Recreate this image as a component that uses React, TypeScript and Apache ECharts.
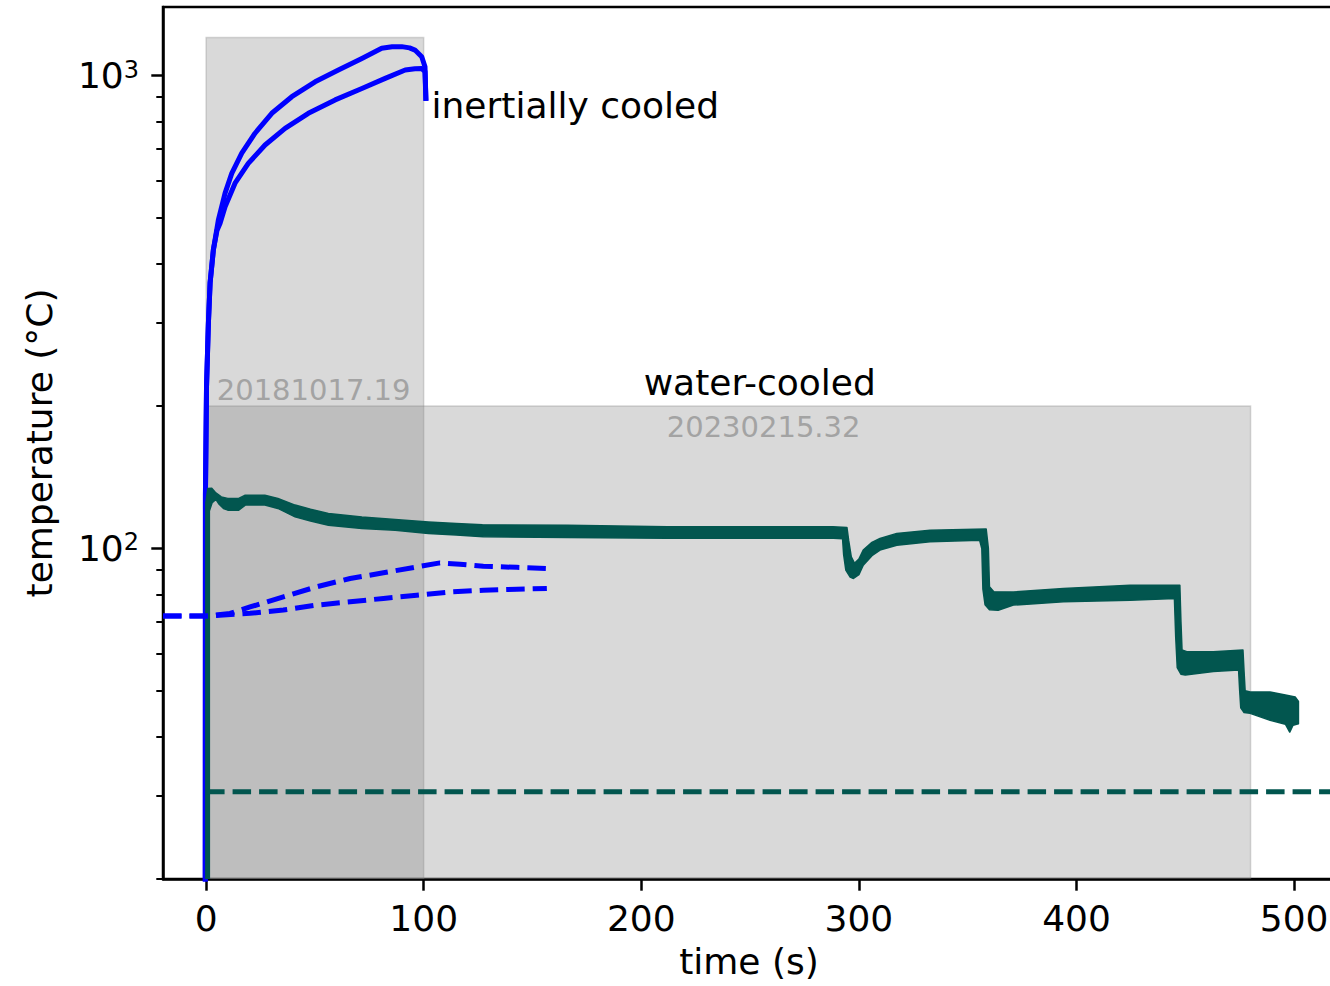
import React, { useEffect, useRef } from "react";
import * as echarts from "echarts";

// ---- axes ----
const X_MIN = -19.8;
const X_MAX = 518.8;
const Y_MIN = 20;
const Y_MAX = 1396;
const xTicks = [0, 100, 200, 300, 400, 500];
const yMajorTicks = [100, 1000];
const yMinorTicks = [20, 30, 40, 50, 60, 70, 80, 90, 200, 300, 400, 500, 600, 700, 800, 900];

// ---- shaded time windows [t0, T0, t1, T1] ----
const spans: [number, number, number, number][] = [
  [0, 20, 100, 1204], // inertially cooled discharge
  [0, 20, 480, 200], // water-cooled discharge
];

// ---- inertially cooled shot: surface temperatures (t [s], T [°C]) ----
const inertialHot: [number, number][] = [
  [-0.4, 10], [-0.3, 130], [0.2, 220], [1.06, 299], [1.84, 364], [3.35, 428], [5.65, 495],
  [8.73, 564], [11.8, 621], [16.4, 685], [22.5, 755], [30.2, 832], [39.4, 902], [50.1, 970],
  [60.8, 1027], [71.6, 1087], [80.7, 1142], [85.5, 1150], [89.9, 1151], [93.5, 1144],
  [96.0, 1132], [99.1, 1096], [100.6, 1044], [101.0, 895],
];
const inertialWarm: [number, number][] = [
  [-0.4, 10], [-0.3, 130], [0.2, 220], [1.06, 299], [1.84, 364], [3.35, 428], [5.0, 470],
  [6.43, 487], [8.73, 528], [13.3, 592], [19.4, 652], [27.1, 713], [36.3, 773], [47.0, 832],
  [59.3, 888], [71.6, 939], [82.3, 986], [91.5, 1027], [96, 1034], [99.1, 1035],
  [100.6, 1019], [101.0, 895],
];
// inertially cooled shot: coolant / structure temperatures
const inertialDashA: [number, number][] = [
  [-19.8, 72], [1, 72], [11, 72.9], [20.2, 75.2], [35.5, 79], [50.9, 83], [66.2, 86.4],
  [81.5, 88.8], [96.8, 91.4], [107.5, 93.2], [116.7, 92.6], [127.4, 91.7], [142.8, 91.2],
  [156.6, 90.7],
];
const inertialDashB: [number, number][] = [
  [-19.8, 72], [1, 72], [20.2, 72.9], [35.5, 74.1], [50.9, 75.9], [66.2, 77.1], [81.5, 78.4],
  [96.8, 79.6], [112.1, 80.9], [127.4, 81.6], [142.8, 82.0], [156.6, 82.3],
];

// ---- water-cooled shot: measured band (upper and lower edge of the noisy trace) ----
const waterTop: [number, number][] = [
  [-0.1, 15], [-0.1, 125], [0.8, 133.9], [2.6, 134], [4.5, 131], [7, 128.5], [10, 127.6],
  [15, 127.6], [18, 129.6], [27, 129.6], [33, 127.5], [40.9, 123.5], [48, 121], [56.2, 118.6],
  [71.6, 116.6], [86.9, 115.2], [102.2, 113.8], [115, 112.9], [127, 112.2], [166, 112.0],
  [212, 111.1], [288, 111.1], [294.5, 110.8], [295.3, 104], [296.5, 96], [298, 93], [300, 95],
  [302, 99.2], [306, 103], [309.7, 105], [317.4, 107.6], [332.7, 109.3], [358.5, 109.9],
  [359.5, 100], [360, 83], [362, 81], [371, 80.9], [394, 82.3], [424.6, 83.6], [447.5, 83.6],
  [448, 70], [448.5, 61], [450.7, 60.5], [462.9, 60.5], [476.5, 61.0], [477, 55], [477.5, 50],
  [479.8, 49.7], [489, 49.7], [496, 49], [500.5, 48.5], [502, 47.5],
];
const waterBottom: [number, number][] = [
  [1.5, 15], [1.5, 120], [2.8, 125], [4.5, 127], [6, 124], [8, 121.5], [10, 120.5],
  [15, 120.5], [18, 123.5], [27, 123.5], [33, 121.5], [40.9, 116.6], [48, 114.3],
  [56.2, 112.0], [71.6, 110.2], [86.9, 109.3], [102.2, 107.6], [115, 106.7], [127.4, 105.8],
  [165.8, 105.5], [211.7, 105.1], [288.3, 105.1], [292.5, 104.8], [293, 97], [294, 90],
  [296, 87], [297.5, 86.4], [300, 88], [302, 92.2], [306, 96.5], [309.7, 99.2], [317.4, 101.6],
  [332.7, 103.3], [355.5, 104.1], [356.5, 100], [357, 82], [358, 76], [360, 74.2], [364, 74.0],
  [371, 75.9], [394, 77.1], [424.6, 77.7], [445, 78.4], [445.6, 65], [446.3, 56], [448, 54.2],
  [450, 54.0], [462.9, 54.9], [474.5, 55.3], [475, 50], [475.5, 46], [477, 45], [479.8, 44.8],
  [489, 43.3], [496, 42.5], [498, 40.9], [499.5, 42.3], [502, 42.6],
];
// water-cooled shot: coolant temperature
const waterCoolant: [number, number][] = [
  [0, 30.6], [540, 30.6],
];

// ---- text annotations (t, T at the text's vertical centre) ----
const annotations = [
  { text: "inertially cooled", t: 103.6, T: 863 },
  { text: "water-cooled", t: 201.1, T: 224.1 },
];
const shotIds = [
  { text: "20181017.19", t: 4.9, T: 216.1 },
  { text: "20230215.32", t: 211.7, T: 180.3 },
];

const FONT = "DejaVu Sans";
const BLUE = "#0000ff";
const TEAL = "#02564f";
const SPAN_FILL = "rgba(128,128,128,0.3)";
const DASH = [18.5, 8];

function buildOption(): echarts.EChartsOption {
  const clipRect = (params: any) => ({
    type: "rect",
    shape: {
      x: params.coordSys.x,
      y: params.coordSys.y,
      width: params.coordSys.width,
      height: params.coordSys.height,
    },
  });

  const textSeries = (items: { text: string; t: number; T: number }[], size: number, color: string) => ({
    type: "custom",
    silent: true,
    clip: false,
    z: 10,
    data: items.map((n) => [n.t, n.T]),
    renderItem: (params: any, api: any) => {
      const p = api.coord([api.value(0), api.value(1)]);
      return {
        type: "text",
        x: p[0],
        y: p[1],
        style: {
          text: items[params.dataIndex].text,
          fill: color,
          fontSize: size,
          fontFamily: FONT,
          align: "left",
          verticalAlign: "middle",
        },
      };
    },
  });

  const lineSeries = (data: [number, number][], color: string, dashed: boolean, z: number) => ({
    type: "line",
    data,
    showSymbol: false,
    symbol: "none",
    silent: true,
    clip: true,
    z,
    lineStyle: {
      color,
      width: 5,
      type: dashed ? DASH : "solid",
      cap: dashed ? "butt" : "square",
      join: "round",
    },
  });

  return {
    animation: false,
    backgroundColor: "#ffffff",
    grid: {
      left: 163,
      top: 7,
      width: 1172,
      height: 872,
      containLabel: false,
      outerBoundsMode: "none",
      show: true,
      borderColor: "#000",
      borderWidth: 2.5,
      backgroundColor: "transparent",
    } as any,
    xAxis: {
      type: "value",
      min: X_MIN,
      max: X_MAX,
      position: "bottom",
      axisLine: { show: true, onZero: false, lineStyle: { color: "#000", width: 2.5 } },
      axisTick: { show: true, customValues: xTicks, length: 11.7, lineStyle: { color: "#000", width: 2.5 } },
      axisLabel: {
        customValues: xTicks,
        color: "#000",
        fontSize: 36,
        fontFamily: FONT,
        margin: 21,
        showMinLabel: true,
        showMaxLabel: true,
      },
      splitLine: { show: false },
      name: "time (s)",
      nameLocation: "middle",
      nameGap: 64,
      nameMoveOverlap: false,
      nameTextStyle: { color: "#000", fontSize: 36, fontFamily: FONT },
    } as any,
    yAxis: [
      {
        type: "log",
        logBase: 10,
        min: Y_MIN,
        max: Y_MAX,
        position: "left",
        axisLine: { show: true, onZero: false, lineStyle: { color: "#000", width: 2.5 } },
        axisTick: { show: true, customValues: yMajorTicks, length: 11.7, lineStyle: { color: "#000", width: 2.5 } },
        axisLabel: {
          customValues: yMajorTicks,
          margin: 24,
          formatter: (v: number) => {
            const e = v > 9 ? Math.round(Math.log10(v)) : Math.round(v);
            return `{b|10}{s|${e}}`;
          },
          rich: {
            b: { fontSize: 36, lineHeight: 36, fontFamily: FONT, color: "#000", verticalAlign: "middle" },
            s: { fontSize: 24, lineHeight: 22, fontFamily: FONT, color: "#000", verticalAlign: "top" },
          },
        },
        splitLine: { show: false },
        minorTick: { show: false },
        name: "temperature (°C)",
        nameLocation: "middle",
        nameRotate: 90,
        nameGap: 106,
        nameMoveOverlap: false,
        nameTextStyle: { color: "#000", fontSize: 36, fontFamily: FONT },
      } as any,
      {
        // minor ticks of the log scale
        type: "log",
        logBase: 10,
        min: Y_MIN,
        max: Y_MAX,
        position: "left",
        offset: 0,
        axisLine: { show: false, onZero: false },
        axisTick: { show: true, customValues: yMinorTicks, length: 6.7, lineStyle: { color: "#000", width: 2 } },
        axisLabel: { show: false },
        splitLine: { show: false },
        minorTick: { show: false },
      } as any,
    ],
    series: [
      {
        type: "custom",
        silent: true,
        z: 1,
        data: spans,
        renderItem: (params: any, api: any) => {
          const a = api.coord([api.value(0), api.value(3)]);
          const b = api.coord([api.value(2), api.value(1)]);
          return {
            type: "rect",
            shape: { x: a[0], y: a[1], width: b[0] - a[0], height: b[1] - a[1] },
            style: { fill: SPAN_FILL, stroke: SPAN_FILL, lineWidth: 1.5 },
            clipPath: clipRect(params),
          };
        },
      },
      lineSeries(inertialHot, BLUE, false, 3),
      lineSeries(inertialWarm, BLUE, false, 3),
      {
        type: "custom",
        silent: true,
        z: 4,
        data: [[0, 100]],
        renderItem: (params: any, api: any) => {
          const pts = [
            ...waterTop.map((p) => api.coord(p)),
            ...waterBottom.slice().reverse().map((p) => api.coord(p)),
          ];
          return {
            type: "polygon",
            shape: { points: pts },
            style: { fill: TEAL, stroke: TEAL, lineWidth: 1.5, lineJoin: "round" },
            clipPath: clipRect(params),
          };
        },
      },
      lineSeries(inertialDashA, BLUE, true, 5),
      lineSeries(inertialDashB, BLUE, true, 5),
      lineSeries(waterCoolant, TEAL, true, 5),
      textSeries(annotations, 36, "#000000"),
      textSeries(shotIds, 29, "#a3a3a3"),
    ] as any,
  };
}

export default function App() {
  const ref = useRef<HTMLDivElement>(null);
  useEffect(() => {
    if (!ref.current) return;
    const chart = echarts.init(ref.current, null, { renderer: "svg" });
    chart.setOption(buildOption());
    return () => chart.dispose();
  }, []);
  return (
    <div
      ref={ref}
      style={{ position: "fixed", left: 0, top: 0, width: 1330, height: 986, background: "#fff" }}
    />
  );
}
